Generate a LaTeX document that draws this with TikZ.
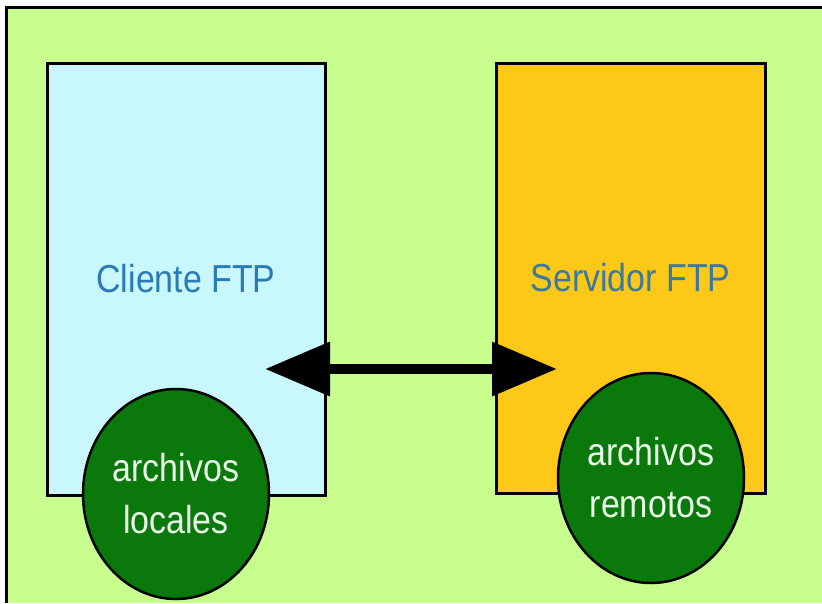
\documentclass[tikz,border=0pt]{standalone}
\usepackage{fontspec}
\setmainfont{Liberation Sans}[FakeStretch=0.87]
\usetikzlibrary{shapes.geometric,arrows.meta}
\definecolor{bggreen}{HTML}{C8FE8E}
\definecolor{lightblue}{HTML}{C8F8FE}
\definecolor{orangebox}{HTML}{FEC818}
\definecolor{darkgreen}{HTML}{0B780B}
\definecolor{labelblue}{HTML}{2A7AB5}
\definecolor{labelteal}{HTML}{3A7A9E}
\definecolor{filetext}{HTML}{EAFBEA}
\tikzset{
  hostbox/.style={draw=black, line width=3pt, minimum width=#1, inner sep=0pt},
  filesel/.style={ellipse, draw=black, line width=2.5pt, fill=darkgreen,
    minimum width=186pt, minimum height=210pt, inner sep=0pt, align=center,
    text=filetext, font=\fontsize{39}{52}\selectfont},
  conn/.style={line width=10pt, {Triangle[length=65pt,width=52pt]}-{Triangle[length=65pt,width=52pt]}}
}
\begin{document}
\begin{tikzpicture}[x=1pt,y=-1pt]
\useasboundingbox (0,0) rectangle (822,603);
\fill[white] (0,0) rectangle (822,603);
\fill[bggreen] (6,7) rectangle (822,603);
\draw[line width=3pt] (6,603) -- (6,7) -- (822,7);
\node[hostbox=278pt, minimum height=432pt, fill=lightblue, text=labelblue,
  font=\fontsize{39}{46}\selectfont] (client) at (186,279) {Cliente FTP};
\node[hostbox=269pt, minimum height=430pt, fill=orangebox, text=labelteal,
  font=\fontsize{39}{46}\selectfont] (server) at (630.5,278) {Servidor FTP};
\coordinate (cend) at (265,369);
\coordinate (send) at (557,369);
\draw[conn] (cend) -- (send);
\node[filesel] (local) at (176,494) {archivos\\locales};
\node[filesel] (remote) at (651,478) {archivos\\remotos};
\end{tikzpicture}
\end{document}
